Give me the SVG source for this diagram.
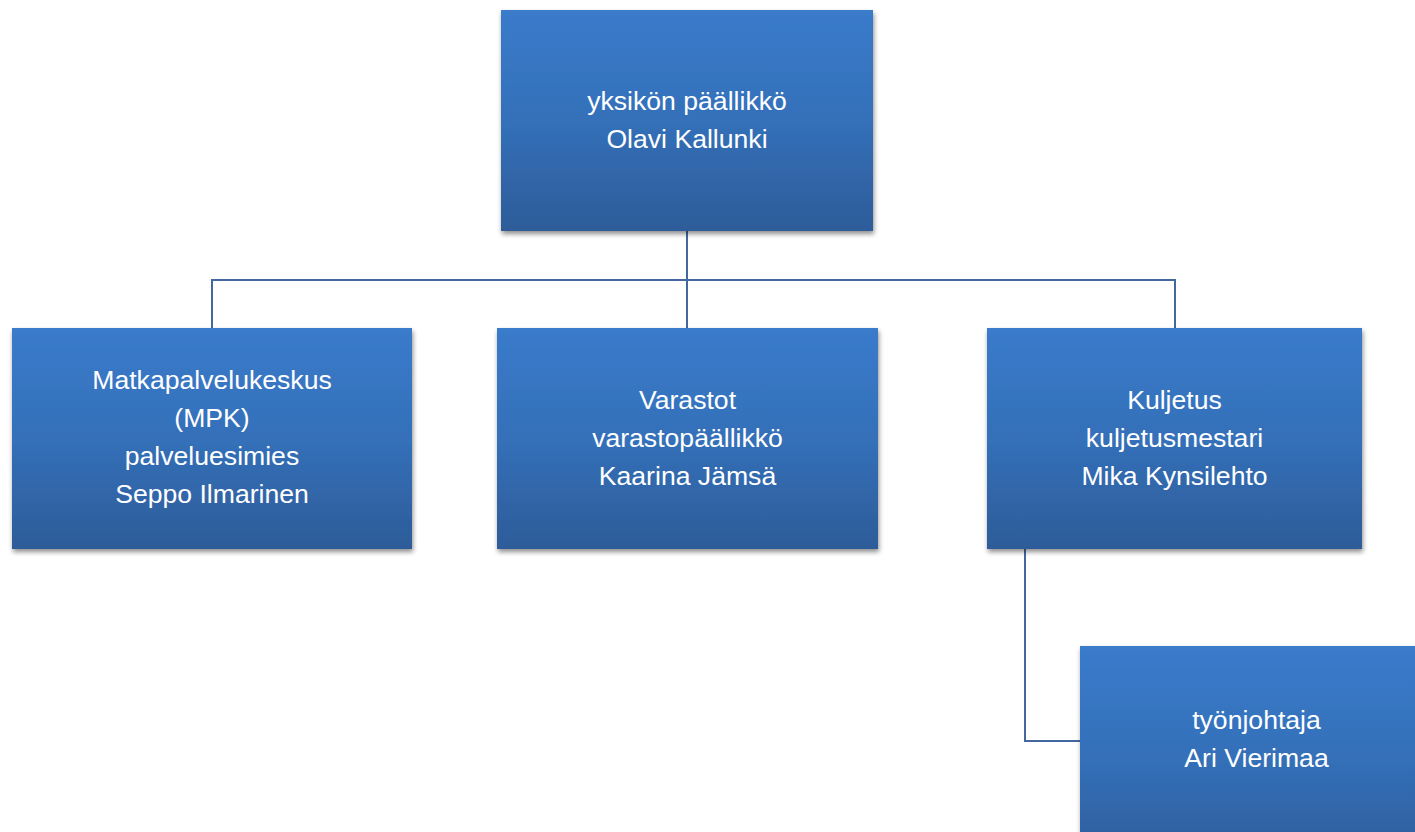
<svg xmlns="http://www.w3.org/2000/svg" width="1415" height="832" viewBox="0 0 1415 832">
<style>
.box{fill:url(#g);filter:url(#sh)}
.t{font-family:"Liberation Sans",Arial,sans-serif;font-size:26.6px;fill:#ffffff;text-anchor:middle}
.c{fill:none;stroke:#42689f;stroke-width:2}
</style>
<defs>
<linearGradient id="g" x1="0" y1="0" x2="0" y2="1">
<stop offset="0" stop-color="#3a7bcb"/>
<stop offset="0.5" stop-color="#3470b9"/>
<stop offset="1" stop-color="#2d5c99"/>
</linearGradient>
<filter id="sh" x="-5%" y="-5%" width="115%" height="120%">
<feGaussianBlur in="SourceAlpha" stdDeviation="2.5"/>
<feOffset dx="1" dy="3" result="b"/>
<feComponentTransfer><feFuncA type="linear" slope="0.45"/></feComponentTransfer>
<feMerge><feMergeNode/><feMergeNode in="SourceGraphic"/></feMerge>
</filter>
</defs>
<rect width="1415" height="832" fill="#ffffff"/>
<g id="connectors">
<path class="c" d="M687 231V280M212 328V280H1175V328M687 280V328"/>
<path class="c" d="M1025 549V741H1080"/>
</g>
<g id="n-top">
<rect class="box" x="501" y="10" width="372" height="221"/>
<text class="t" x="687" y="110">yksikön päällikkö</text>
<text class="t" x="687" y="148">Olavi Kallunki</text>
</g>
<g id="n-mpk">
<rect class="box" x="12" y="328" width="400" height="221"/>
<text class="t" x="212" y="389">Matkapalvelukeskus</text>
<text class="t" x="212" y="427">(MPK)</text>
<text class="t" x="212" y="465">palveluesimies</text>
<text class="t" x="212" y="503">Seppo Ilmarinen</text>
</g>
<g id="n-varastot">
<rect class="box" x="497" y="328" width="381" height="221"/>
<text class="t" x="687.5" y="409">Varastot</text>
<text class="t" x="687.5" y="447">varastopäällikkö</text>
<text class="t" x="687.5" y="485">Kaarina Jämsä</text>
</g>
<g id="n-kuljetus">
<rect class="box" x="987" y="328" width="375" height="221"/>
<text class="t" x="1174.5" y="409">Kuljetus</text>
<text class="t" x="1174.5" y="447">kuljetusmestari</text>
<text class="t" x="1174.5" y="485">Mika Kynsilehto</text>
</g>
<g id="n-tyonjohtaja">
<rect class="box" x="1080" y="646" width="353" height="221"/>
<text class="t" x="1256.5" y="729">työnjohtaja</text>
<text class="t" x="1256.5" y="767">Ari Vierimaa</text>
</g>
</svg>
